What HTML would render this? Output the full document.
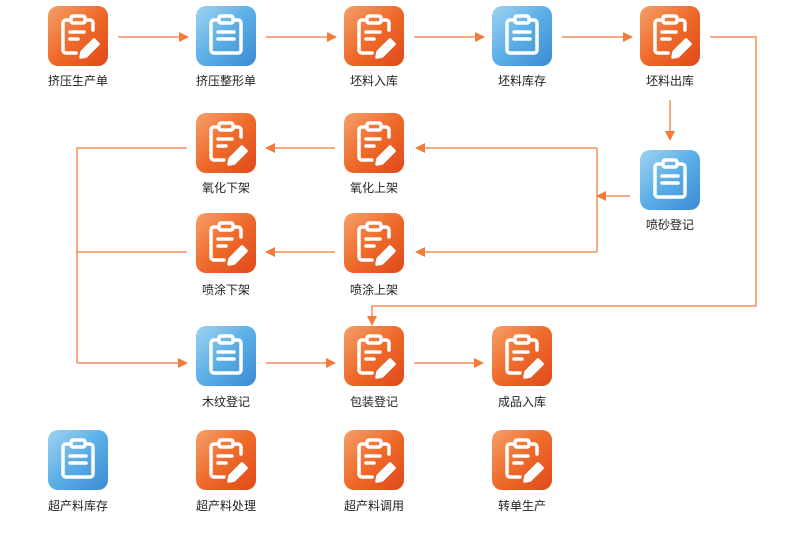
<!DOCTYPE html>
<html><head><meta charset="utf-8"><style>
body{margin:0;background:#fff;width:786px;height:543px;overflow:hidden;font-family:"Liberation Sans","Noto Sans CJK SC",sans-serif}
</style></head><body>
<svg width="786" height="543" xmlns="http://www.w3.org/2000/svg">
<defs>
<linearGradient id="go" x1="0" y1="0" x2="1" y2="1"><stop offset="0" stop-color="#f5a06a"/><stop offset="0.5" stop-color="#ee6a2a"/><stop offset="1" stop-color="#e0491a"/></linearGradient>
<linearGradient id="gb" x1="0" y1="0" x2="1" y2="1"><stop offset="0" stop-color="#9fd3f2"/><stop offset="0.5" stop-color="#5aaee6"/><stop offset="1" stop-color="#3a8ad2"/></linearGradient>
<marker id="a" markerWidth="10" markerHeight="10" refX="9" refY="5" orient="auto" markerUnits="userSpaceOnUse"><path d="M0,0 L10,5 L0,10 z" fill="#f37b3b"/></marker>
<g id="clip" fill="none" stroke="#fff" stroke-width="3.5" stroke-linecap="round" stroke-linejoin="round">
<path d="M22,14 h-4 a3,3 0 0 0 -3,3 v27 a3,3 0 0 0 3,3 h24 a3,3 0 0 0 3,-3 v-27 a3,3 0 0 0 -3,-3 h-4"/>
<rect x="23" y="10" width="14" height="7" rx="2"/>
<line x1="22" y1="26" x2="38" y2="26"/><line x1="22" y1="33" x2="38" y2="33"/>
</g>
<g id="pen" fill="none" stroke="#fff" stroke-width="3.5" stroke-linecap="round" stroke-linejoin="round">
<path d="M21,14 h-3 a3,3 0 0 0 -3,3 v27 a3,3 0 0 0 3,3 h10"/>
<path d="M39,14 h3 a3,3 0 0 1 3,3 v7"/>
<rect x="23" y="10" width="14" height="7" rx="2"/>
<line x1="22" y1="26" x2="36" y2="26"/><line x1="22" y1="33" x2="30" y2="33"/>
<path d="M34,46 l12,-12 l4,4 l-12,12 l-5,1 z" fill="#fff"/>
</g>
<g id="O"><rect width="60" height="60" rx="10" fill="url(#go)"/><use href="#pen"/></g>
<g id="B"><rect width="60" height="60" rx="10" fill="url(#gb)"/><use href="#clip"/></g>
</defs>
<g stroke="#f37b3b" stroke-width="1.3" fill="none">
<line x1="118" y1="37" x2="188" y2="37" marker-end="url(#a)"/>
<line x1="266" y1="37" x2="336" y2="37" marker-end="url(#a)"/>
<line x1="414" y1="37" x2="484" y2="37" marker-end="url(#a)"/>
<line x1="562" y1="37" x2="632" y2="37" marker-end="url(#a)"/>
<polyline points="710,37 756,37 756,306 372,306 372,325" marker-end="url(#a)"/>
<line x1="670" y1="100" x2="670" y2="140" marker-end="url(#a)"/>
<line x1="630" y1="196" x2="597" y2="196" marker-end="url(#a)"/>
<line x1="597" y1="148" x2="597" y2="252"/>
<line x1="597" y1="148" x2="416" y2="148" marker-end="url(#a)"/>
<line x1="597" y1="252" x2="416" y2="252" marker-end="url(#a)"/>
<line x1="335" y1="148" x2="266" y2="148" marker-end="url(#a)"/>
<line x1="335" y1="252" x2="266" y2="252" marker-end="url(#a)"/>
<polyline points="187,148 77,148 77,363"/>
<line x1="187" y1="252" x2="77" y2="252"/>
<line x1="77" y1="363" x2="187" y2="363" marker-end="url(#a)"/>
<line x1="266" y1="363" x2="335" y2="363" marker-end="url(#a)"/>
<line x1="414" y1="363" x2="483" y2="363" marker-end="url(#a)"/>
</g>
<use href="#O" x="48" y="6"/><use href="#B" x="196" y="6"/><use href="#O" x="344" y="6"/><use href="#B" x="492" y="6"/><use href="#O" x="640" y="6"/>
<use href="#O" x="196" y="113"/><use href="#O" x="344" y="113"/><use href="#B" x="640" y="150"/>
<use href="#O" x="196" y="213"/><use href="#O" x="344" y="213"/>
<use href="#B" x="196" y="326"/><use href="#O" x="344" y="326"/><use href="#O" x="492" y="326"/>
<use href="#B" x="48" y="430"/><use href="#O" x="196" y="430"/><use href="#O" x="344" y="430"/><use href="#O" x="492" y="430"/>
<g font-size="12" fill="#222" text-anchor="middle">
<text x="78" y="85">挤压生产单</text><text x="226" y="85">挤压整形单</text><text x="374" y="85">坯料入库</text><text x="522" y="85">坯料库存</text><text x="670" y="85">坯料出库</text>
<text x="226" y="192">氧化下架</text><text x="374" y="192">氧化上架</text><text x="670" y="229">喷砂登记</text>
<text x="226" y="294">喷涂下架</text><text x="374" y="294">喷涂上架</text>
<text x="226" y="406">木纹登记</text><text x="374" y="406">包装登记</text><text x="522" y="406">成品入库</text>
<text x="78" y="510">超产料库存</text><text x="226" y="510">超产料处理</text><text x="374" y="510">超产料调用</text><text x="522" y="510">转单生产</text>
</g>
</svg>
</body></html>
